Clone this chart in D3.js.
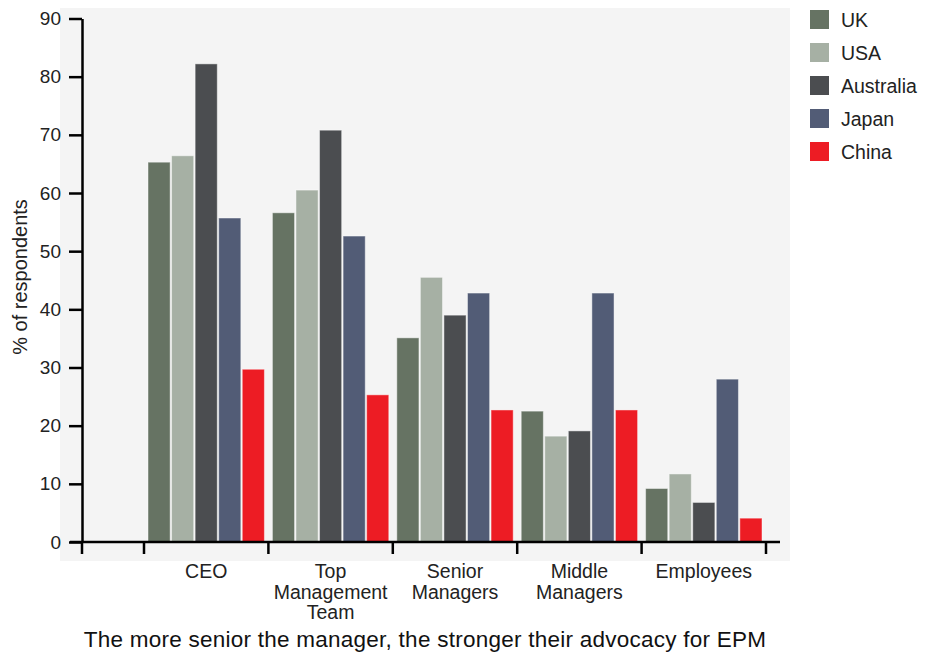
<!DOCTYPE html>
<html>
<head>
<meta charset="utf-8">
<script src="https://cdn.jsdelivr.net/npm/d3@7"></script>
<style>
  html, body { margin: 0; padding: 0; background: #fff; }
  svg { display: block; font-family: "Liberation Sans", Arial, sans-serif; }
</style>
</head>
<body>
<svg id="chart" width="931" height="654"></svg>
<script>
const categories = ["CEO", "Top Management Team", "Senior Managers", "Middle Managers", "Employees"];
const categoryLines = [["CEO"], ["Top", "Management", "Team"], ["Senior", "Managers"], ["Middle", "Managers"], ["Employees"]];
const countries = ["UK", "USA", "Australia", "Japan", "China"];
const colors = ["#667363", "#a6b0a4", "#4b4d50", "#525c76", "#ed1c24"];

const ukValues = [65.3, 56.6, 35.1, 22.5, 9.2];
const usaValues = [66.4, 60.5, 45.5, 18.2, 11.7];
const australiaValues = [82.2, 70.8, 39.0, 19.1, 6.8];
const japanValues = [55.7, 52.6, 42.8, 42.8, 28.0];
const chinaValues = [29.7, 25.3, 22.7, 22.7, 4.1];
const seriesValues = [ukValues, usaValues, australiaValues, japanValues, chinaValues];

const yTicks = [0, 10, 20, 30, 40, 50, 60, 70, 80, 90];
const yLabel = "% of respondents";
const title = "The more senior the manager, the stronger their advocacy for EPM";

const svg = d3.select("#chart");
const axisX = 82;
const baseY = 542;

// plot background
svg.append("rect")
  .attr("x", 60).attr("y", 8)
  .attr("width", 730).attr("height", 553)
  .attr("fill", "#f4f4f4");

const x = d3.scaleBand().domain(categories).range([144, 766]);
const xs = d3.scaleBand().domain(countries).range([0, x.bandwidth()])
  .paddingInner(0.06).paddingOuter(0.17);
const y = d3.scaleLinear().domain([0, 90]).range([baseY, 18.5]);

const rows = [];
categories.forEach((c, i) => {
  countries.forEach((k, j) => {
    rows.push({ cat: c, country: k, value: seriesValues[j][i], color: colors[j] });
  });
});

svg.append("g")
  .selectAll("rect")
  .data(rows)
  .join("rect")
  .attr("x", (d) => x(d.cat) + xs(d.country))
  .attr("y", (d) => y(d.value))
  .attr("width", xs.bandwidth())
  .attr("height", (d) => baseY - y(d.value))
  .attr("fill", (d) => d.color)
  .attr("stroke", "rgba(255,255,255,0.45)")
  .attr("stroke-width", 1);

// y axis
const yAxis = svg.append("g")
  .attr("transform", `translate(${axisX},0)`)
  .call(d3.axisLeft(y).tickValues(yTicks).tickSize(13).tickSizeOuter(0).tickPadding(8));
yAxis.select(".domain").attr("stroke", "#000").attr("stroke-width", 2.5);
yAxis.selectAll(".tick line").attr("stroke", "#000").attr("stroke-width", 2.5);
yAxis.selectAll(".tick text")
  .attr("font-size", 19)
  .attr("fill", "#222")
  .attr("font-family", "Liberation Sans, Arial, sans-serif");

// x axis line and boundary ticks
svg.append("line")
  .attr("x1", 70).attr("x2", 780)
  .attr("y1", baseY).attr("y2", baseY)
  .attr("stroke", "#000").attr("stroke-width", 2.5);

const bounds = [axisX].concat(categories.map((c) => x(c)), [x(categories[4]) + x.bandwidth()]);
svg.append("g")
  .selectAll("line")
  .data(bounds)
  .join("line")
  .attr("x1", (d) => d).attr("x2", (d) => d)
  .attr("y1", baseY).attr("y2", baseY + 12)
  .attr("stroke", "#000").attr("stroke-width", 2.5);

// category labels
const catText = svg.append("g")
  .selectAll("text")
  .data(categories)
  .join("text")
  .attr("text-anchor", "middle")
  .attr("font-size", 19.5)
  .attr("fill", "#222");
catText.each(function (c, i) {
  const t = d3.select(this);
  categoryLines[i].forEach((ln, k) => {
    t.append("tspan")
      .attr("x", x(c) + x.bandwidth() / 2)
      .attr("y", 578 + k * 20.5)
      .text(ln);
  });
});

// y label
svg.append("text")
  .attr("transform", "translate(27,277) rotate(-90)")
  .attr("text-anchor", "middle")
  .attr("font-size", 20)
  .attr("fill", "#222")
  .text(yLabel);

// title
svg.append("text")
  .attr("x", 425).attr("y", 647)
  .attr("text-anchor", "middle")
  .attr("font-size", 22.5)
  .attr("letter-spacing", 0.25)
  .attr("fill", "#111")
  .text(title);

// legend
const legend = svg.append("g")
  .selectAll("g")
  .data(countries)
  .join("g")
  .attr("transform", (d, i) => `translate(810,${10 + i * 33})`);
legend.append("rect")
  .attr("width", 19).attr("height", 19)
  .attr("fill", (d, i) => colors[i]);
legend.append("text")
  .attr("x", 31).attr("y", 16.5)
  .attr("font-size", 19.5)
  .attr("fill", "#222")
  .text((d) => d);
</script>
</body>
</html>
